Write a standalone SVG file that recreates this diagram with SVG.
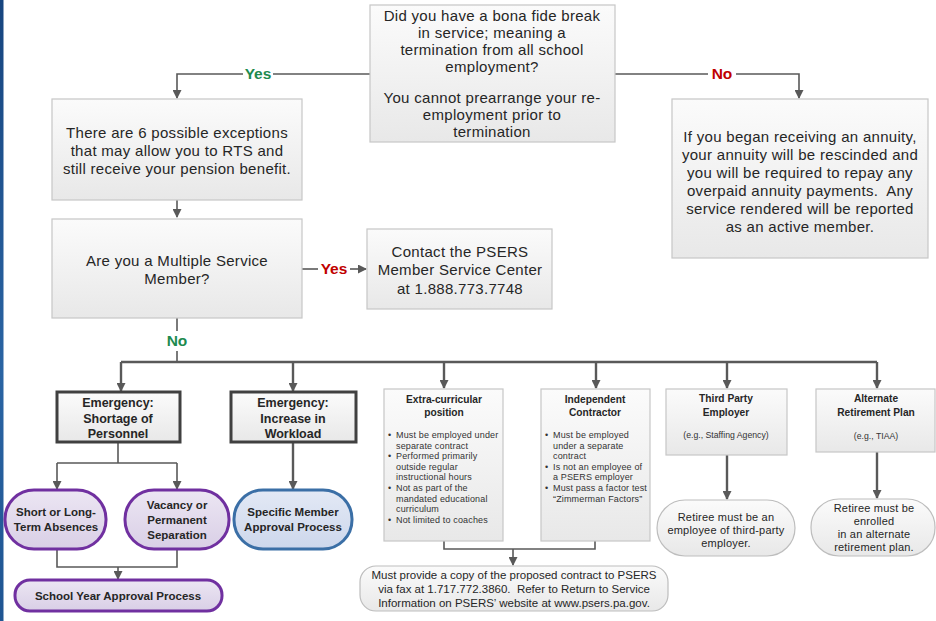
<svg xmlns="http://www.w3.org/2000/svg" width="936" height="621" viewBox="0 0 936 621">
<defs>
  <linearGradient id="gBox" x1="0" y1="0" x2="0" y2="1">
    <stop offset="0" stop-color="#fbfbfb"/>
    <stop offset="1" stop-color="#e8e8e8"/>
  </linearGradient>
  <linearGradient id="gPurple" x1="0" y1="0" x2="0" y2="1">
    <stop offset="0" stop-color="#ece6f3"/>
    <stop offset="1" stop-color="#d9cfe6"/>
  </linearGradient>
  <linearGradient id="gBlue" x1="0" y1="0" x2="0" y2="1">
    <stop offset="0" stop-color="#e3e9f5"/>
    <stop offset="1" stop-color="#cdd7ec"/>
  </linearGradient>
  <linearGradient id="gEdge" x1="0" y1="0" x2="0" y2="1">
    <stop offset="0" stop-color="#17457f"/>
    <stop offset="0.6" stop-color="#2a64a3"/>
    <stop offset="1" stop-color="#1f5592"/>
  </linearGradient>
  <marker id="arr" markerWidth="9" markerHeight="9" refX="8" refY="4.5" orient="auto" markerUnits="userSpaceOnUse">
    <path d="M0,0 L9,4.5 L0,9 z" fill="#595959"/>
  </marker>
</defs>
<style>
  .box { fill: url(#gBox); stroke: #c6c6c6; stroke-width: 1.2; }
  .bold { fill: url(#gBox); stroke: #404040; stroke-width: 3; }
  .pp { fill: url(#gPurple); stroke: #7030a0; stroke-width: 3; }
  .bp { fill: url(#gBlue); stroke: #3b6fa6; stroke-width: 3; }
  .gp { fill: url(#gBox); stroke: #bdbdbd; stroke-width: 1.2; }
  text { font-family: "Liberation Sans", Arial, sans-serif; fill: #262626; }
  .t { font-size: 15px; letter-spacing: 0.3px; text-anchor: middle; }
  .tb { font-size: 12.5px; font-weight: bold; text-anchor: middle; }
  .th { font-size: 10.2px; font-weight: bold; text-anchor: middle; }
  .ts { font-size: 9px; letter-spacing: 0.15px; fill: #333; }
  .tm { font-size: 11.5px; text-anchor: middle; }
  .tr { font-size: 11px; letter-spacing: 0.2px; text-anchor: middle; }
  .ta { font-size: 8.7px; fill: #333; text-anchor: middle; }
  .yes { font-size: 15.5px; font-weight: bold; fill: #1d8a4e; text-anchor: middle; }
  .no { font-size: 15.5px; font-weight: bold; fill: #c00000; text-anchor: middle; }
  .ln { fill: none; stroke: #595959; stroke-width: 1.6; }
  .lb { fill: none; stroke: #595959; stroke-width: 2.4; }
</style>
<rect x="0" y="0" width="936" height="621" fill="#ffffff"/>
<rect x="0" y="0" width="3.5" height="621" fill="url(#gEdge)"/>

<g id="connectors">
  <path class="ln" d="M370,74 H273"/>
  <path class="ln" d="M243,74 H177 V98" marker-end="url(#arr)"/>
  <path class="ln" d="M615,74 H708"/>
  <path class="ln" d="M736,74 H799 V98" marker-end="url(#arr)"/>
  <path class="ln" d="M177,200 V217" marker-end="url(#arr)"/>
  <path class="ln" d="M302,269 H318"/>
  <path class="ln" d="M350,269 H366" marker-end="url(#arr)"/>
  <path class="ln" d="M177,318 V331"/>
  <path class="ln" d="M177,351 V362"/>
  <path class="lb" d="M121,362 H877"/>
  <path class="lb" d="M121,362 V391" marker-end="url(#arr)"/>
  <path class="lb" d="M293,362 V391" marker-end="url(#arr)"/>
  <path class="lb" d="M444,362 V388" marker-end="url(#arr)"/>
  <path class="lb" d="M596,362 V388" marker-end="url(#arr)"/>
  <path class="lb" d="M727,362 V388" marker-end="url(#arr)"/>
  <path class="lb" d="M877,362 V388" marker-end="url(#arr)"/>
  <path class="ln" d="M118,443 V463 M57,463 H177"/>
  <path class="ln" d="M57,463 V489" marker-end="url(#arr)"/>
  <path class="ln" d="M177,463 V489" marker-end="url(#arr)"/>
  <path class="ln" d="M57,550 V567 H177 V550"/>
  <path class="ln" d="M118,567 V579" marker-end="url(#arr)"/>
  <path class="lb" d="M293,443 V489" marker-end="url(#arr)"/>
  <path class="ln" d="M444,541 V549 H595 V541"/>
  <path class="ln" d="M513,549 V565" marker-end="url(#arr)"/>
  <path class="lb" d="M727,455 V499" marker-end="url(#arr)"/>
  <path class="lb" d="M877,452 V498" marker-end="url(#arr)"/>
</g>
<g id="labels">
  <text class="yes" x="258" y="79">Yes</text>
  <text class="no" x="722" y="79">No</text>
  <text class="no" x="334" y="274">Yes</text>
  <text class="yes" x="177" y="346">No</text>
</g>

<g id="n-break">
  <rect class="box" x="370" y="5" width="245" height="137"/>
  <text class="t" x="492" y="21">Did you have a bona fide break</text>
  <text class="t" x="492" y="38">in service; meaning a</text>
  <text class="t" x="492" y="55">termination from all school</text>
  <text class="t" x="492" y="72">employment?</text>
  <text class="t" x="492" y="103">You cannot prearrange your re-</text>
  <text class="t" x="492" y="120">employment prior to</text>
  <text class="t" x="492" y="137">termination</text>
</g>
<g id="n-exceptions">
  <rect class="box" x="52" y="99" width="250" height="101"/>
  <text class="t" x="177" y="138">There are 6 possible exceptions</text>
  <text class="t" x="177" y="156">that may allow you to RTS and</text>
  <text class="t" x="177" y="174">still receive your pension benefit.</text>
</g>
<g id="n-multiple">
  <rect class="box" x="52" y="219" width="250" height="99"/>
  <text class="t" x="177" y="266">Are you a Multiple Service</text>
  <text class="t" x="177" y="284">Member?</text>
</g>
<g id="n-contact">
  <rect class="box" x="367" y="229" width="185" height="80"/>
  <text class="t" x="460" y="257">Contact the PSERS</text>
  <text class="t" x="460" y="275">Member Service Center</text>
  <text class="t" x="460" y="294">at 1.888.773.7748</text>
</g>
<g id="n-rescind">
  <rect class="box" x="672" y="99" width="256" height="159"/>
  <text class="t" x="800" y="142">If you began receiving an annuity,</text>
  <text class="t" x="800" y="160">your annuity will be rescinded and</text>
  <text class="t" x="800" y="178">you will be required to repay any</text>
  <text class="t" x="800" y="196" xml:space="preserve">overpaid annuity payments.  Any</text>
  <text class="t" x="800" y="214">service rendered will be reported</text>
  <text class="t" x="800" y="232">as an active member.</text>
</g>

<g id="n-shortage">
  <rect class="bold" x="57" y="392" width="123" height="50"/>
  <text class="tb" x="118" y="407">Emergency:</text>
  <text class="tb" x="118" y="423">Shortage of</text>
  <text class="tb" x="118" y="438">Personnel</text>
</g>
<g id="n-absences">
  <rect class="pp" x="5" y="490" width="101" height="59" rx="29"/>
  <text class="tb" x="56" y="516" style="font-size:11.5px">Short or Long-</text>
  <text class="tb" x="56" y="531" style="font-size:11.5px">Term Absences</text>
</g>
<g id="n-vacancy">
  <rect class="pp" x="125" y="490" width="104" height="59" rx="29"/>
  <text class="tb" x="177" y="509" style="font-size:11.5px">Vacancy or</text>
  <text class="tb" x="177" y="524" style="font-size:11.5px">Permanent</text>
  <text class="tb" x="177" y="539" style="font-size:11.5px">Separation</text>
</g>
<g id="n-schoolyear">
  <rect class="pp" x="15" y="580" width="207" height="31" rx="15"/>
  <text class="tb" x="118" y="600" style="font-size:11.5px">School Year Approval Process</text>
</g>
<g id="n-workload">
  <rect class="bold" x="231" y="392" width="125" height="50"/>
  <text class="tb" x="293" y="407">Emergency:</text>
  <text class="tb" x="293" y="423">Increase in</text>
  <text class="tb" x="293" y="438">Workload</text>
</g>
<g id="n-specific">
  <rect class="bp" x="234" y="490" width="118" height="59" rx="29"/>
  <text class="tb" x="293" y="516" style="font-size:11.5px">Specific Member</text>
  <text class="tb" x="293" y="531" style="font-size:11.5px">Approval Process</text>
</g>

<g id="n-extra">
  <rect class="box" x="384" y="389" width="119" height="152"/>
  <text class="th" x="444" y="403">Extra-curricular</text>
  <text class="th" x="444" y="416">position</text>
  <g class="ts">
    <text class="ts" x="388" y="438">•</text><text class="ts" x="396" y="438">Must be employed under</text>
    <text class="ts" x="396" y="448.6">separate contract</text>
    <text class="ts" x="388" y="459.2">•</text><text class="ts" x="396" y="459.2">Performed primarily</text>
    <text class="ts" x="396" y="469.8">outside regular</text>
    <text class="ts" x="396" y="480.4">instructional hours</text>
    <text class="ts" x="388" y="491">•</text><text class="ts" x="396" y="491">Not as part of the</text>
    <text class="ts" x="396" y="501.6">mandated educational</text>
    <text class="ts" x="396" y="512.2">curriculum</text>
    <text class="ts" x="388" y="522.8">•</text><text class="ts" x="396" y="522.8">Not limited to coaches</text>
  </g>
</g>
<g id="n-contractor">
  <rect class="box" x="541" y="389" width="109" height="152"/>
  <text class="th" x="595" y="403">Independent</text>
  <text class="th" x="595" y="416">Contractor</text>
  <g class="ts">
    <text class="ts" x="545" y="438">•</text><text class="ts" x="553" y="438">Must be employed</text>
    <text class="ts" x="553" y="448.6">under a separate</text>
    <text class="ts" x="553" y="459.2">contract</text>
    <text class="ts" x="545" y="469.8">•</text><text class="ts" x="553" y="469.8">Is not an employee of</text>
    <text class="ts" x="553" y="480.4">a PSERS employer</text>
    <text class="ts" x="545" y="491">•</text><text class="ts" x="553" y="491">Must pass a factor test</text>
    <text class="ts" x="553" y="501.6">“Zimmerman Factors”</text>
  </g>
</g>
<g id="n-fax">
  <rect class="gp" x="360" y="566" width="308" height="45" rx="16"/>
  <text class="tm" x="514" y="579">Must provide a copy of the proposed contract to PSERS</text>
  <text class="tm" x="514" y="593" xml:space="preserve">via fax at 1.717.772.3860.  Refer to Return to Service</text>
  <text class="tm" x="514" y="607">Information on PSERS’ website at www.psers.pa.gov.</text>
</g>
<g id="n-thirdparty">
  <rect class="box" x="666" y="389" width="121" height="66"/>
  <text class="th" x="726" y="402">Third Party</text>
  <text class="th" x="726" y="416">Employer</text>
  <text class="ta" x="726" y="438">(e.g., Staffing Agency)</text>
</g>
<g id="n-retiree3p">
  <rect class="gp" x="657" y="500" width="138" height="56" rx="28"/>
  <text class="tr" x="726" y="521">Retiree must be an</text>
  <text class="tr" x="726" y="534">employee of third-party</text>
  <text class="tr" x="726" y="547">employer.</text>
</g>
<g id="n-alternate">
  <rect class="box" x="816" y="389" width="119" height="63"/>
  <text class="th" x="876" y="402">Alternate</text>
  <text class="th" x="876" y="416">Retirement Plan</text>
  <text class="ta" x="876" y="439">(e.g., TIAA)</text>
</g>
<g id="n-retireeArp">
  <rect class="gp" x="811" y="499" width="124" height="57" rx="28"/>
  <text class="tr" x="874" y="512">Retiree must be</text>
  <text class="tr" x="874" y="525">enrolled</text>
  <text class="tr" x="874" y="538">in an alternate</text>
  <text class="tr" x="874" y="551">retirement plan.</text>
</g>
</svg>
